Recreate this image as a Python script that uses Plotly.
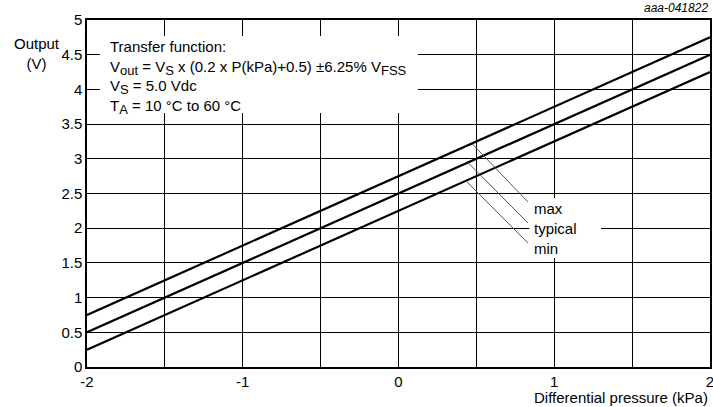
import plotly.graph_objects as go

pressure = [-2, 2]
typical = [0.5, 4.5]
vmax = [0.75, 4.75]
vmin = [0.25, 4.25]

labels = ["max", "typical", "min"]
label_y = [2.29, 1.99, 1.71]
leader_start = [(0.472, 3.22), (0.446, 2.946), (0.433, 2.683)]
leader_end = [(0.831, 2.378), (0.831, 2.075), (0.831, 1.787)]

x_ticks = [-2, -1, 0, 1, 2]
x_tick_text = ["-2", "-1", "0", "1", "2"]
y_ticks = [0, 0.5, 1, 1.5, 2, 2.5, 3, 3.5, 4, 4.5, 5]
y_tick_text = ["0", "0.5", "1", "1.5", "2", "2.5", "3", "3.5", "4", "4.5", "5"]

FONT = "Liberation Sans, Arial, sans-serif"
W, H = 713, 407
ML, MR, MT, MB = 87, 3, 20, 40
PW, PH = W - ML - MR, H - MT - MB


def px(x):
    return (x - ML) / PW


def py(y):
    return (H - MB - y) / PH


def sub(s):
    return '<sub><span style="font-size:13px">' + s + '</span></sub>'


fig = go.Figure()
for ys in (vmax, typical, vmin):
    fig.add_trace(go.Scatter(x=pressure, y=ys, mode="lines",
                             line=dict(color="black", width=2.2),
                             showlegend=False, hoverinfo="skip"))

for (x0, y0), (x1, y1) in zip(leader_start, leader_end):
    fig.add_shape(type="line", x0=x0, y0=y0, x1=x1, y1=y1, xref="x", yref="y",
                  line=dict(color="#555555", width=1))

# white box behind the transfer-function text
fig.add_shape(type="rect", xref="x", yref="y", x0=-1.917, x1=0.125, y0=3.66, y1=4.77,
              fillcolor="white", line=dict(width=0), layer="above")
# white box behind labels
fig.add_shape(type="rect", xref="x", yref="y", x0=0.84, x1=1.3, y0=1.57, y1=2.43,
              fillcolor="white", line=dict(width=0), layer="above")

for lab, ly in zip(labels, label_y):
    fig.add_annotation(x=0.855, y=ly, xref="x", yref="y", text=lab, showarrow=False,
                       xanchor="left", yanchor="middle",
                       font=dict(family=FONT, size=15, color="black"))

fig.add_annotation(
    x=px(108), y=py(36), xref="paper", yref="paper", showarrow=False,
    text=("Transfer function:<br>"
          "V" + sub("out") + " = V" + sub("S") + " x (0.2 x P(kPa)+0.5) ±6.25% V" + sub("FSS") + "<br>"
          "V" + sub("S") + " = 5.0 Vdc<br>"
          "T" + sub("A") + " = 10 °C to 60 °C"),
    align="left", xanchor="left", yanchor="top",
    font=dict(family=FONT, size=15, color="black"))

fig.update_layout(
    width=W, height=H,
    margin=dict(l=ML, r=MR, t=MT, b=MB),
    plot_bgcolor="white", paper_bgcolor="white",
    font=dict(family=FONT, size=15, color="black"),
    xaxis=dict(range=[-2, 2], tickvals=x_ticks, ticktext=x_tick_text, showgrid=True,
               gridcolor="black", gridwidth=1, showline=True, linecolor="black",
               linewidth=1.5, mirror=True, ticks="", zeroline=False, automargin=False,
               ticklabeloverflow="allow", tickfont=dict(family=FONT, size=15)),
    yaxis=dict(range=[0, 5], tickvals=y_ticks, ticktext=y_tick_text, showgrid=True,
               gridcolor="black", gridwidth=1, showline=True, linecolor="black",
               linewidth=1.5, mirror=True, ticks="", zeroline=False, automargin=False,
               ticklabeloverflow="allow", tickfont=dict(family=FONT, size=15)),
)
fig.update_xaxes(minor=dict(dtick=0.5, showgrid=True, gridcolor="black", gridwidth=1))

fig.add_annotation(x=px(37), y=py(53), xref="paper", yref="paper", text="Output<br>(V)",
                   showarrow=False, align="center", xanchor="center", yanchor="middle",
                   font=dict(family=FONT, size=15))
fig.add_annotation(x=1.0, y=py(387), xref="paper", yref="paper",
                   text="Differential pressure (kPa)", showarrow=False,
                   xanchor="right", yanchor="top", font=dict(family=FONT, size=15))
fig.add_annotation(x=1.0, y=py(17), xref="paper", yref="paper", text="<i>aaa-041822</i>",
                   showarrow=False, xanchor="right", yanchor="bottom",
                   font=dict(family=FONT, size=12))

fig.write_html("out.html", config={"displayModeBar": False},
               post_script="document.body.style.margin='0';"
                           "document.body.style.overflow='hidden';")
